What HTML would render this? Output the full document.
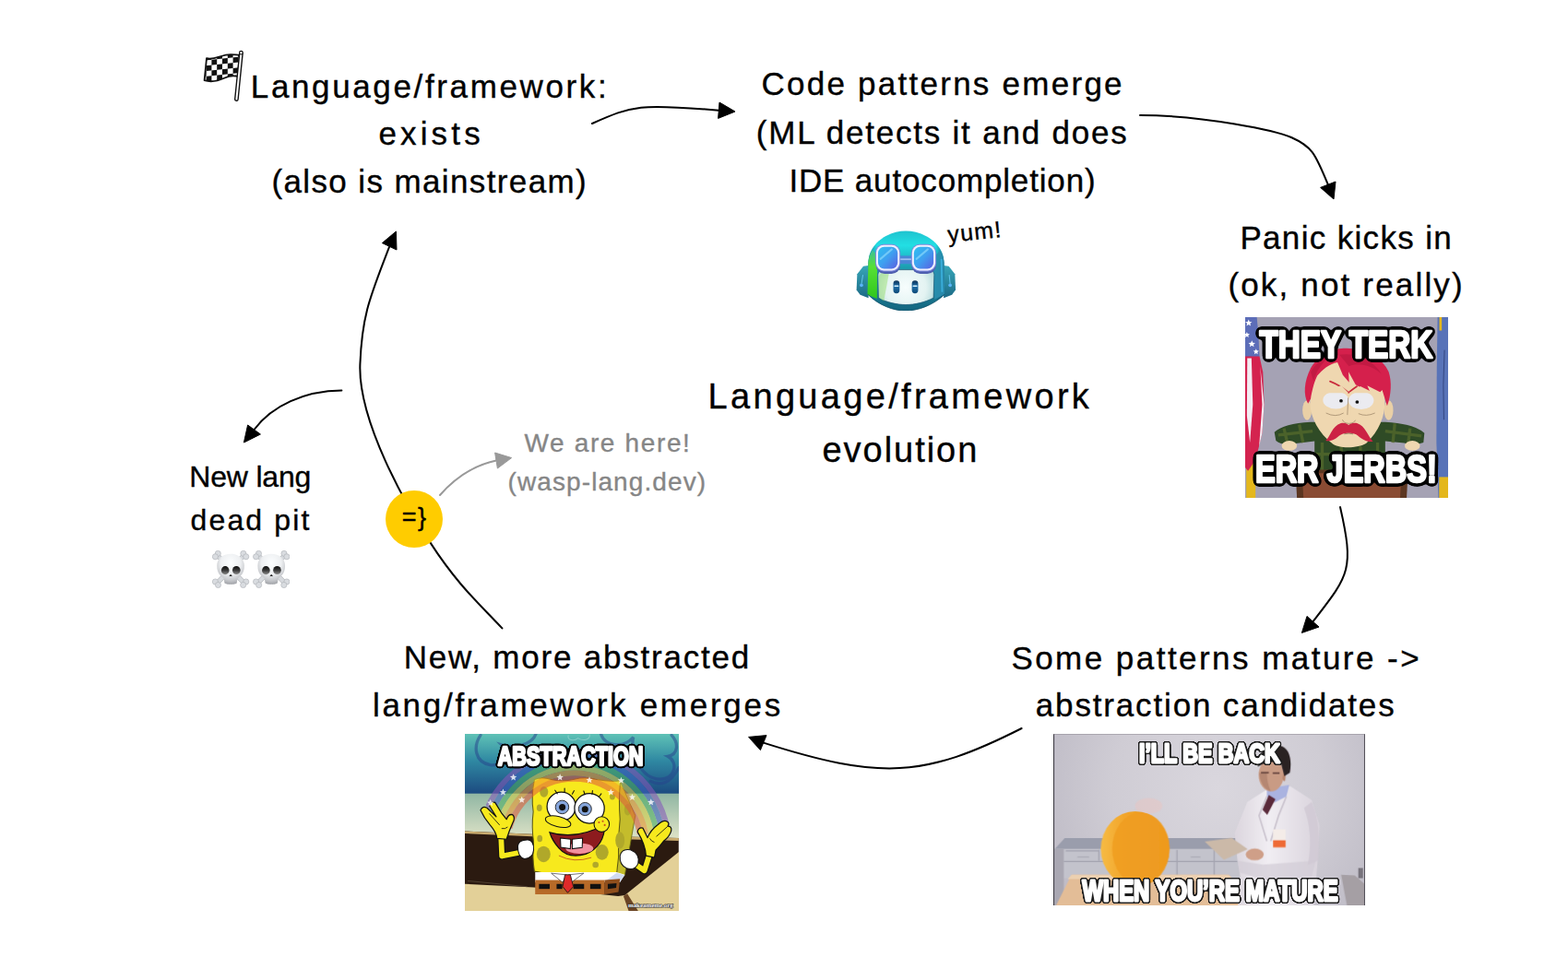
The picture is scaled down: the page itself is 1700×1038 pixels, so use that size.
<!DOCTYPE html>
<html lang="en">
<head>
<meta charset="utf-8">
<title>Language/framework evolution</title>
<style>
html,body{margin:0;padding:0;background:#fff}
body{width:1700px;height:1038px;overflow:hidden;font-family:"Liberation Sans",sans-serif;color:#000}
#canvas{position:relative;width:1700px;height:1038px;overflow:hidden;background:#fff}
#arrows{position:absolute;left:0;top:0}
.ln{position:absolute;white-space:pre;margin:0;-webkit-text-stroke:0.35px currentColor}
.pic{position:absolute;display:block;overflow:hidden}
.meme{font-family:"Liberation Sans",sans-serif;font-weight:bold;fill:#fff;stroke:#000;paint-order:stroke fill;stroke-linejoin:round}
#wasp{position:absolute;left:427px;top:545px;width:44px;text-align:center;font-size:27px;line-height:32px;letter-spacing:1.5px;text-indent:1.5px;-webkit-text-stroke:0.4px currentColor}
#yum{position:absolute;left:1029px;top:239px;font-size:25px;line-height:30px;transform:rotate(-6deg);transform-origin:0 100%;letter-spacing:1.2px;-webkit-text-stroke:0.4px currentColor}
.memef{font-family:"Liberation Sans",sans-serif;font-weight:bold;fill:#fff}

</style>
</head>
<body>
<div id="canvas">
<svg id="arrows" width="1700" height="1038" viewBox="0 0 1700 1038">
<path d="M642.0 134.0C686.2 114.4 693.4 112.1 779.3 119.7" fill="none" stroke="#000" stroke-width="2" stroke-linecap="round"/><path d="M797.0 121.0L780.0 111.0L778.6 128.4Z" fill="#000" stroke="#000" stroke-width="1" stroke-linejoin="round"/>
<path d="M1236.0 125.0C1306.4 125.0 1384.8 142.3 1400.0 149.0C1422.2 158.8 1425.7 165.7 1439.8 200.2" fill="none" stroke="#000" stroke-width="2" stroke-linecap="round"/><path d="M1446.0 216.0L1431.6 203.4L1448.0 197.0Z" fill="#000" stroke="#000" stroke-width="1" stroke-linejoin="round"/>
<path d="M1453.0 550.0C1468.6 618.5 1462.5 623.7 1423.5 674.2" fill="none" stroke="#000" stroke-width="2" stroke-linecap="round"/><path d="M1411.4 686.4L1417.0 668.4L1430.0 680.0Z" fill="#000" stroke="#000" stroke-width="1" stroke-linejoin="round"/>
<path d="M1107.6 790.0C1001.3 843.9 954.6 845.8 827.7 805.6" fill="none" stroke="#000" stroke-width="2" stroke-linecap="round"/><path d="M811.6 799.4L831.0 797.6L824.4 813.6Z" fill="#000" stroke="#000" stroke-width="1" stroke-linejoin="round"/>
<path d="M544.4 681.4C519.5 654.8 496.0 634.3 466.4 588.4C441.1 549.1 388.0 457.3 390.4 395.0C392.6 339.1 402.4 319.6 422.2 267.3" fill="none" stroke="#000" stroke-width="2" stroke-linecap="round"/><path d="M429.4 251.0L414.4 263.6L430.0 271.0Z" fill="#000" stroke="#000" stroke-width="1" stroke-linejoin="round"/>
<path d="M370.4 423.6C330 424 295 440 275.5 466" fill="none" stroke="#000" stroke-width="2" stroke-linecap="round"/><path d="M264.4 480.0L268.6 461.0L282.4 471.0Z" fill="#000" stroke="#000" stroke-width="1" stroke-linejoin="round"/>
<path d="M477 537C492 520 512 505 538 499.5" fill="none" stroke="#999" stroke-width="2" stroke-linecap="round"/><path d="M554.6 496.6L536.6 491.0L539.4 508.0Z" fill="#999" stroke="#999" stroke-width="1" stroke-linejoin="round"/>
<circle cx="449" cy="563" r="31" fill="#ffcc00"/>
</svg>
<div class="blk" id="t1">
  <div class="ln" style="left:271.8px;top:71.9px;font-size:35px;line-height:44px;letter-spacing:2.63px">Language/framework:</div>
  <div class="ln" style="left:410.4px;top:122.5px;font-size:35px;line-height:44px;letter-spacing:4.16px">exists</div>
  <div class="ln" style="left:294.4px;top:174.9px;font-size:35px;line-height:44px;letter-spacing:1.38px">(also is mainstream)</div>
</div>
<div class="blk" id="t2">
  <div class="ln" style="left:825.4px;top:69.4px;font-size:35px;line-height:44px;letter-spacing:2.26px">Code patterns emerge</div>
  <div class="ln" style="left:819.8px;top:121.9px;font-size:35px;line-height:44px;letter-spacing:1.79px">(ML detects it and does</div>
  <div class="ln" style="left:855.4px;top:173.9px;font-size:35px;line-height:44px;letter-spacing:0.84px">IDE autocompletion)</div>
</div>
<div class="blk" id="t3">
  <div class="ln" style="left:1344.4px;top:235.9px;font-size:35px;line-height:44px;letter-spacing:1.33px">Panic kicks in</div>
  <div class="ln" style="left:1331.4px;top:286.9px;font-size:35px;line-height:44px;letter-spacing:2.17px">(ok, not really)</div>
</div>
<div class="blk" id="title">
  <div class="ln" style="left:767.6px;top:406.4px;font-size:38px;line-height:48px;letter-spacing:3.31px">Language/framework</div>
  <div class="ln" style="left:891.5px;top:463.6px;font-size:38px;line-height:48px;letter-spacing:1.96px">evolution</div>
</div>
<div class="blk" id="here">
  <div class="ln" style="left:568.5px;top:462.5px;font-size:28px;line-height:35px;letter-spacing:1.64px;color:#868686">We are here!</div>
  <div class="ln" style="left:550.6px;top:504.6px;font-size:28px;line-height:35px;letter-spacing:1.09px;color:#868686">(wasp-lang.dev)</div>
</div>
<div class="blk" id="pit">
  <div class="ln" style="left:205.2px;top:496.9px;font-size:32px;line-height:40px;letter-spacing:-0.17px">New lang</div>
  <div class="ln" style="left:206.6px;top:543.9px;font-size:32px;line-height:40px;letter-spacing:2.13px">dead pit</div>
</div>
<div class="blk" id="t5">
  <div class="ln" style="left:437.7px;top:690.7px;font-size:35px;line-height:44px;letter-spacing:1.80px">New, more abstracted</div>
  <div class="ln" style="left:403.9px;top:743.2px;font-size:35px;line-height:44px;letter-spacing:2.72px">lang/framework emerges</div>
</div>
<div class="blk" id="t4">
  <div class="ln" style="left:1096.4px;top:691.5px;font-size:35px;line-height:44px;letter-spacing:2.46px">Some patterns mature -&gt;</div>
  <div class="ln" style="left:1122.8px;top:742.5px;font-size:35px;line-height:44px;letter-spacing:1.84px">abstraction candidates</div>
</div>

<div id="wasp">=}</div>
<div id="yum">yum!</div>
<svg class="pic" id="flag" style="left:220px;top:54px" width="45" height="57" viewBox="100 70 225 285" role="img" aria-label="chequered flag">
<defs>
<pattern id="chk" width="58" height="58" patternUnits="userSpaceOnUse" patternTransform="translate(118 98) skewY(-6)"><rect width="58" height="58" fill="#fff"/><rect width="29" height="29" fill="#111"/><rect x="29" y="29" width="29" height="29" fill="#111"/></pattern>
<clipPath id="flagClip"><path d="M120 116C160 128 200 96 250 96C270 96 285 98 298 98L290 216C270 208 240 212 215 224C180 240 140 246 108 236Z"/></clipPath>
</defs>
<path d="M120 116C160 128 200 96 250 96C270 96 285 98 298 98L290 216C270 208 240 212 215 224C180 240 140 246 108 236Z" fill="#fff"/>
<g clip-path="url(#flagClip)"><rect x="100" y="60" width="220" height="220" fill="url(#chk)"/></g>
<path d="M120 116C160 128 200 96 250 96C270 96 285 98 298 98L290 216C270 208 240 212 215 224C180 240 140 246 108 236Z" fill="none" stroke="#111" stroke-width="9" stroke-linejoin="round"/>
<path d="M307 90L282 338" stroke="#111" stroke-width="24" stroke-linecap="round"/>
<path d="M307 90L282 338" stroke="#fff" stroke-width="10" stroke-linecap="round"/>
<circle cx="307" cy="86" r="9" fill="#fff" stroke="#111" stroke-width="6"/>
</svg>

<svg class="pic" id="skulls" style="left:229.9px;top:596.5px" width="84.3" height="41.1" viewBox="160 105 1365 665" preserveAspectRatio="none" role="img" aria-label="skull and crossbones, twice">
<defs>
<radialGradient id="skHead" cx=".5" cy=".3" r=".72"><stop offset="0" stop-color="#fcfeff"/><stop offset=".5" stop-color="#eef0f2"/><stop offset=".8" stop-color="#c4c6ca"/><stop offset="1" stop-color="#9c9ea3"/></radialGradient>
<linearGradient id="skJaw" x1="0" y1="0" x2="0" y2="1"><stop offset="0" stop-color="#e4e6e8"/><stop offset="1" stop-color="#b9bbbf"/></linearGradient>
<linearGradient id="skEye" x1="0" y1="0" x2="0" y2="1"><stop offset="0" stop-color="#0c0c0c"/><stop offset=".5" stop-color="#3a3a3a"/><stop offset="1" stop-color="#8a8a8a"/></linearGradient>
<filter id="skSoft" x="-5%" y="-5%" width="110%" height="110%"><feGaussianBlur stdDeviation="4"/></filter>
</defs>
<g filter="url(#skSoft)">
<g transform="translate(0 0)">
<g stroke-linecap="round">
<path d="M250 190L720 675M720 190L250 675" stroke="#a9acb1" stroke-width="84"/>
<path d="M250 190L720 675M720 190L250 675" stroke="#d7dade" stroke-width="66"/>
</g>
<g fill="#d9dce0" stroke="#a9acb1" stroke-width="9">
<circle cx="262" cy="160" r="50"/><circle cx="215" cy="215" r="50"/>
<circle cx="708" cy="160" r="50"/><circle cx="755" cy="215" r="50"/>
<circle cx="215" cy="655" r="50"/><circle cx="265" cy="712" r="50"/>
<circle cx="755" cy="655" r="50"/><circle cx="705" cy="712" r="50"/>
</g>
<path d="M245 370C245 250 350 165 485 165C620 165 725 250 725 370C725 450 705 505 665 545L605 600L592 680C560 708 410 708 378 680L365 600L305 545C265 505 245 450 245 370Z" fill="url(#skHead)"/>
<path d="M430 672V700M467 676V704M504 676V704M540 672V700" stroke="#a4a6aa" stroke-width="7"/>
<ellipse cx="390" cy="455" rx="70" ry="73" fill="url(#skEye)"/><ellipse cx="586" cy="452" rx="70" ry="73" fill="url(#skEye)"/>
<path d="M485 525C500 535 512 552 512 562C500 556 492 556 485 560C478 556 470 556 458 562C458 552 470 535 485 525Z" fill="#222"/>
</g>
<g transform="translate(715 0)">
<g stroke-linecap="round">
<path d="M250 190L720 675M720 190L250 675" stroke="#a9acb1" stroke-width="84"/>
<path d="M250 190L720 675M720 190L250 675" stroke="#d7dade" stroke-width="66"/>
</g>
<g fill="#d9dce0" stroke="#a9acb1" stroke-width="9">
<circle cx="262" cy="160" r="50"/><circle cx="215" cy="215" r="50"/>
<circle cx="708" cy="160" r="50"/><circle cx="755" cy="215" r="50"/>
<circle cx="215" cy="655" r="50"/><circle cx="265" cy="712" r="50"/>
<circle cx="755" cy="655" r="50"/><circle cx="705" cy="712" r="50"/>
</g>
<path d="M245 370C245 250 350 165 485 165C620 165 725 250 725 370C725 450 705 505 665 545L605 600L592 680C560 708 410 708 378 680L365 600L305 545C265 505 245 450 245 370Z" fill="url(#skHead)"/>
<path d="M430 672V700M467 676V704M504 676V704M540 672V700" stroke="#a4a6aa" stroke-width="7"/>
<ellipse cx="390" cy="455" rx="70" ry="73" fill="url(#skEye)"/><ellipse cx="586" cy="452" rx="70" ry="73" fill="url(#skEye)"/>
<path d="M485 525C500 535 512 552 512 562C500 556 492 556 485 560C478 556 470 556 458 562C458 552 470 535 485 525Z" fill="#222"/>
</g>
</g>
</svg>

<svg class="pic" id="copilot" style="left:927.8px;top:249.7px" width="108.2" height="87.2" viewBox="225 200 876 706" preserveAspectRatio="none">
<defs>
<linearGradient id="cpDome" x1="0" y1="0" x2="0" y2="1"><stop offset="0" stop-color="#1fc3cf"/><stop offset=".18" stop-color="#22dfe4"/><stop offset=".5" stop-color="#1b93a8"/><stop offset="1" stop-color="#156680"/></linearGradient>
<linearGradient id="cpSide" x1="0" y1="0" x2="1" y2="0"><stop offset="0" stop-color="#1a7e96" stop-opacity=".9"/><stop offset=".12" stop-color="#1a7e96" stop-opacity="0"/><stop offset=".88" stop-color="#165f86" stop-opacity="0"/><stop offset="1" stop-color="#165f86" stop-opacity=".9"/></linearGradient>
<linearGradient id="cpGreen" x1="0" y1="0" x2="0" y2="1"><stop offset="0" stop-color="#3bbf9a"/><stop offset=".35" stop-color="#57e035"/><stop offset="1" stop-color="#2fc61c"/></linearGradient>
<radialGradient id="cpFace" cx="660" cy="700" r="300" gradientUnits="userSpaceOnUse"><stop offset="0" stop-color="#f7fdfd"/><stop offset=".6" stop-color="#e3f3f2"/><stop offset="1" stop-color="#a9d4d6"/></radialGradient>
<linearGradient id="cpGlass" x1="0" y1="0" x2="1" y2="1"><stop offset="0" stop-color="#2fc0f0"/><stop offset=".5" stop-color="#3f9ff0"/><stop offset="1" stop-color="#5a5fe0"/></linearGradient>
<linearGradient id="cpEar" x1="0" y1="0" x2="0" y2="1"><stop offset="0" stop-color="#37a6b8"/><stop offset="1" stop-color="#1c6a86"/></linearGradient>
<linearGradient id="cpEye" x1="0" y1="0" x2="0" y2="1"><stop offset="0" stop-color="#0e3358"/><stop offset=".45" stop-color="#1f6ea8"/><stop offset="1" stop-color="#0f4a78"/></linearGradient>
</defs>
<path d="M335 508L290 514L236 582L230 722L262 764L335 794Z" fill="url(#cpEar)"/>
<path d="M995 508L1040 514L1094 582L1100 722L1068 764L995 794Z" fill="url(#cpEar)"/>
<path d="M286 590L274 668M1044 590L1052 668" stroke="#63c6ee" stroke-width="8" fill="none"/>
<circle cx="273" cy="680" r="15" fill="#58b4f8"/><circle cx="1052" cy="680" r="15" fill="#58b4f8"/>
<path d="M328 760L334 480C340 300 520 205 662 205C810 205 990 300 998 480L1004 760C900 862 760 905 662 905C560 905 430 862 328 760Z" fill="url(#cpDome)"/>
<path d="M328 760L334 480C340 300 520 205 662 205C810 205 990 300 998 480L1004 760C900 862 760 905 662 905C560 905 430 862 328 760Z" fill="url(#cpSide)"/>
<path d="M326 762L334 480C336 440 350 400 372 370L412 420L410 800Z" fill="url(#cpGreen)"/>
<path d="M912 430L960 380C985 410 996 450 998 480L1004 760L915 805Z" fill="#2b8fb0" opacity=".85"/>
<path d="M975 450L982 740" stroke="#3fb8e8" stroke-width="14" opacity=".8"/>
<path d="M418 592C418 562 440 545 470 545H860C894 545 912 565 912 592L906 792C830 832 740 852 662 852C590 852 490 832 424 792Z" fill="url(#cpFace)" stroke="#1e5a78" stroke-width="6"/>
<path d="M424 600L470 550L520 548L470 820L426 790Z" fill="#9fe07a" opacity=".55"/>
<path d="M328 760C430 862 560 905 662 905C760 905 900 862 1004 760" fill="none" stroke="#0f5068" stroke-width="8" opacity=".8"/>
<!-- goggles -->
<rect x="606" y="422" width="114" height="72" fill="#4a86d6"/><rect x="606" y="446" width="114" height="14" fill="#9fc0f0"/>
<g>
<rect x="400" y="345" width="214" height="236" rx="76" fill="#4f5fb0"/>
<rect x="395" y="320" width="220" height="240" rx="74" fill="#7e89dc"/>
<rect x="403" y="328" width="204" height="224" rx="66" fill="#eef0ff"/>
<rect x="419" y="344" width="172" height="192" rx="54" fill="url(#cpGlass)"/>
<rect x="714" y="345" width="214" height="236" rx="76" fill="#4f5fb0"/>
<rect x="710" y="320" width="220" height="240" rx="74" fill="#7e89dc"/>
<rect x="718" y="328" width="204" height="224" rx="66" fill="#eef0ff"/>
<rect x="734" y="344" width="172" height="192" rx="54" fill="url(#cpGlass)"/>
<path d="M440 450L540 365M756 450L856 365" stroke="#9fe6ff" stroke-width="16" opacity=".55" stroke-linecap="round"/>
</g>
<!-- eyes -->
<rect x="553" y="640" width="55" height="112" rx="27" fill="url(#cpEye)"/><rect x="716" y="640" width="55" height="112" rx="27" fill="url(#cpEye)"/>
<rect x="560" y="682" width="41" height="12" rx="6" fill="#d8f2ff"/><rect x="723" y="682" width="41" height="12" rx="6" fill="#d8f2ff"/>
</svg>

<svg class="pic" id="meme-terk" style="left:1350px;top:344px" width="220" height="196" viewBox="97 43 1062 946" preserveAspectRatio="none">
<defs>
<filter id="impact1" x="-5%" y="-25%" width="110%" height="150%" color-interpolation-filters="sRGB">
<feGaussianBlur in="SourceAlpha" stdDeviation="12" result="b"/>
<feComponentTransfer in="b" result="e"><feFuncA type="linear" slope="24" intercept="-1.2"/></feComponentTransfer>
<feFlood flood-color="#000"/><feComposite in2="e" operator="in" result="blk"/>
<feMerge><feMergeNode in="blk"/><feMergeNode in="SourceGraphic"/></feMerge>
</filter>
</defs>
<rect x="97" y="43" width="1062" height="946" fill="#a5a2b4"/>
<!-- left flag -->
<rect x="103" y="700" width="48" height="290" fill="#e4b71c"/>
<path d="M97 43H158L166 130L172 250H97Z" fill="#5c6db8"/>
<path d="M97 248H172L190 330L196 500L186 650L152 790L112 848L97 830Z" fill="#d4234f"/>
<path d="M108 258H130L137 500L122 700L106 560Z" fill="#f3ecf2"/>
<path d="M176 300L196 500L186 650L170 720L186 500Z" fill="#f3ecf2"/>
<g fill="#fff"><path d="M115 55l5 12 13 1-10 8 3 13-11-7-11 7 3-13-10-8 13-1z"/><path d="M132 165l5 12 13 1-10 8 3 13-11-7-11 7 3-13-10-8 13-1z"/><path d="M154 208l4 10 11 1-8 7 2 11-9-6-9 6 2-11-8-7 11-1z"/><path d="M106 120l4 10 11 1-8 7 2 11-9-6-9 6 2-11-8-7 11-1z"/></g>
<!-- right curtain -->
<path d="M1104 43H1159V989H1108L1098 700L1100 300Z" fill="#5873b8"/>
<rect x="1113" y="43" width="13" height="70" fill="#e4b71c"/>
<rect x="1112" y="880" width="47" height="110" fill="#e4b71c"/>
<path d="M1140 215Q1130 400 1137 580" fill="none" stroke="#2c3c74" stroke-width="4"/>
<!-- shirt -->
<path d="M250 645Q300 600 440 592L830 592Q980 600 1035 650L1030 700Q980 718 930 702L830 692V850H460V692L350 706Q290 716 258 690Z" fill="#2f4b26"/>
<g stroke="#55692c" stroke-width="16" opacity=".75" fill="none"><path d="M300 625L320 710M380 605L400 700M880 600L870 700M960 625L950 705M500 700V850M600 720V850M700 720V850M790 700V850M460 760H830M270 660L450 640M830 640L1020 665"/></g>
<ellipse cx="328" cy="716" rx="40" ry="26" fill="#efd7b0"/><ellipse cx="972" cy="716" rx="40" ry="26" fill="#efd7b0"/>
<!-- podium -->
<path d="M360 842H950L942 989H368Z" fill="#5c3621"/>
<path d="M395 860H915L908 989H402Z" fill="#8a4b33"/>
<!-- head -->
<ellipse cx="421" cy="530" rx="24" ry="52" fill="#ead0a6"/><ellipse cx="848" cy="530" rx="24" ry="52" fill="#ead0a6"/>
<path d="M437 496C430 380 520 240 636 240C750 240 835 380 828 496C826 560 800 640 731 703C690 730 590 732 557 708C480 650 440 570 437 496Z" fill="#efd7b0"/>
<!-- hair -->
<path d="M426 496C400 450 405 380 440 310C490 230 560 206 624 206C720 204 820 260 848 329C865 380 862 450 840 508L814 424L803 435L736 401L753 440L714 418L675 396L638 329L641 385L608 346L580 279C540 285 500 318 474 350C455 390 445 440 440 470Z" fill="#d5204c"/>
<path d="M590 240C680 225 770 270 810 340C770 305 700 275 640 300ZM440 330C460 290 500 260 540 250C500 280 470 320 455 380Z" fill="#b3163c" opacity=".55"/>
<path d="M541 379Q595 400 638 438Q660 420 682 405" fill="none" stroke="#c92b3c" stroke-width="8" stroke-linecap="round"/>
<ellipse cx="571" cy="477" rx="67" ry="46" fill="#ebebf0"/><ellipse cx="704" cy="479" rx="66" ry="47" fill="#ebebf0"/>
<path d="M500 440L638 440L600 400ZM640 440L772 440L700 405Z" fill="#efd7b0"/>
<circle cx="599" cy="481" r="9" fill="#111"/><circle cx="683" cy="487" r="9" fill="#111"/>
<path d="M636 465L632 555M606 580Q612 598 640 600Q668 598 674 582M520 545Q570 570 612 545M690 548Q730 566 776 545" fill="none" stroke="#8a7558" stroke-width="3"/>
<path d="M518 690C540 672 552 612 598 598C620 594 632 602 638 608C646 602 660 594 682 598C726 610 742 672 766 694C730 698 702 676 688 664C672 650 652 648 638 650C622 648 604 652 588 664C572 678 548 696 518 690Z" fill="#cc2244"/>
<path d="M615 655Q638 648 662 655" fill="none" stroke="#8a7558" stroke-width="4"/>
<!-- captions -->
<text class="memef" stroke="#fff" stroke-width="13" stroke-linejoin="round" x="172" y="256" font-size="208" textLength="906" lengthAdjust="spacingAndGlyphs" filter="url(#impact1)">THEY TERK</text>
<text class="memef" stroke="#fff" stroke-width="13" stroke-linejoin="round" x="150" y="908" font-size="208" textLength="950" lengthAdjust="spacingAndGlyphs" filter="url(#impact1)">ERR JERBS!</text>
</svg>

<svg class="pic" id="meme-abstraction" style="left:504px;top:796px" width="232" height="192" viewBox="68 53 1120 926" preserveAspectRatio="none">
<defs>
<linearGradient id="absSky" x1="0" y1="0" x2="0" y2="1"><stop offset="0" stop-color="#5fc2b6"/><stop offset=".45" stop-color="#2f88a2"/><stop offset="1" stop-color="#1c4a80"/></linearGradient>
<linearGradient id="absSea" x1="0" y1="0" x2="0" y2="1"><stop offset="0" stop-color="#90b6a3"/><stop offset="1" stop-color="#e0e4c8"/></linearGradient>
<filter id="impact2" x="-5%" y="-25%" width="110%" height="150%" color-interpolation-filters="sRGB">
<feGaussianBlur in="SourceAlpha" stdDeviation="7.5" result="b"/>
<feComponentTransfer in="b" result="e"><feFuncA type="linear" slope="24" intercept="-1.2"/></feComponentTransfer>
<feFlood flood-color="#000"/><feComposite in2="e" operator="in" result="blk"/>
<feMerge><feMergeNode in="blk"/><feMergeNode in="SourceGraphic"/></feMerge>
</filter>
</defs>
<rect x="68" y="53" width="1120" height="314" fill="url(#absSky)"/>
<rect x="68" y="365" width="1120" height="240" fill="url(#absSea)"/>
<!-- sky flowers -->
<g fill="none" stroke="#26418c" stroke-width="16" opacity=".5" stroke-linecap="round">
<path d="M150 60C110 120 120 200 200 215C280 225 300 150 260 110C330 130 420 110 440 53"/>
<path d="M780 53C800 120 900 130 950 70C930 150 990 290 1090 290C1170 290 1187 200 1130 170C1187 160 1187 100 1150 60"/>
<path d="M1187 230C1150 300 1100 330 1040 300"/>
</g>
<path d="M610 60C600 85 640 95 660 75C690 95 730 80 720 55" fill="none" stroke="#9ad6d0" stroke-width="5" opacity=".7"/>
<!-- ground -->
<path d="M68 562L420 578L1187 598V905H68Z" fill="#2b1a10"/>
<path d="M68 562L420 578L1187 598V612L420 590L68 574Z" fill="#c9ab6e"/>
<path d="M68 838L430 856L870 902L905 897L1188 670V979H68Z" fill="#e3d098"/>
<path d="M918 888L975 979H925L898 902Z" fill="#6a4424"/>
<!-- body -->
<path d="M880 300L960 480L905 792H850Z" fill="#c4bc2c" stroke="#6b6a14" stroke-width="4"/>
<path d="M432 292Q470 275 520 292Q580 305 640 290Q700 275 760 292Q820 305 882 298Q872 400 880 500Q868 600 872 700Q866 750 862 792Q800 800 740 788Q680 776 620 790Q560 800 500 786Q460 778 432 772Q420 700 428 620Q416 540 426 460Q414 380 432 292Z" fill="#f7e91d" stroke="#5e5a10" stroke-width="5"/>
<g fill="#b0a82a"><ellipse cx="482" cy="356" rx="22" ry="28"/><ellipse cx="480" cy="682" rx="36" ry="42"/><ellipse cx="786" cy="672" rx="34" ry="40"/><ellipse cx="880" cy="610" rx="24" ry="44"/><ellipse cx="460" cy="600" rx="14" ry="18"/><ellipse cx="458" cy="440" rx="14" ry="18"/><ellipse cx="920" cy="450" rx="18" ry="30"/><ellipse cx="840" cy="382" rx="14" ry="16"/><ellipse cx="752" cy="738" rx="16" ry="16"/></g>
<!-- rainbow -->
<clipPath id="absClip"><path d="M68 53H1188V500L1075 575L950 580L640 640L300 545L175 425H68Z"/></clipPath>
<g fill="none" stroke-width="29.5" opacity=".58" clip-path="url(#absClip)">
<circle cx="640" cy="637" r="494.5" stroke="#8458b8"/>
<circle cx="640" cy="637" r="465.5" stroke="#3f62c0"/>
<circle cx="640" cy="637" r="436.5" stroke="#4fae62"/>
<circle cx="640" cy="637" r="407.5" stroke="#d8d048"/>
<circle cx="640" cy="637" r="378.5" stroke="#f0982c"/>
<circle cx="640" cy="637" r="349.5" stroke="#e0603c"/>
</g>
<!-- eyes -->
<g stroke="#111" stroke-width="6"><circle cx="573" cy="433" r="75" fill="#fff"/><circle cx="720" cy="443" r="78" fill="#fff"/></g>
<circle cx="577" cy="436" r="35" fill="#86a6dc" stroke="#111" stroke-width="4"/><circle cx="697" cy="446" r="34" fill="#86a6dc" stroke="#111" stroke-width="4"/>
<circle cx="578" cy="437" r="17" fill="#111"/><circle cx="697" cy="447" r="17" fill="#111"/>
<g stroke="#111" stroke-width="5" stroke-linecap="round"><path d="M540 348L552 366M590 338L590 358M640 350L630 368M690 352L696 370M736 350L734 370M782 366L770 382"/></g>
<!-- mouth -->
<path d="M512 568Q650 610 800 528Q800 640 700 682Q610 708 560 650Q525 612 512 568Z" fill="#8d1b1e" stroke="#111" stroke-width="6"/>
<ellipse cx="668" cy="652" rx="72" ry="28" fill="#f2909f"/>
<path d="M568 598L622 604L620 654L570 646ZM630 604L684 598L682 648L630 654Z" fill="#fff" stroke="#111" stroke-width="5"/>
<circle cx="784" cy="526" r="40" fill="#f7e91d" stroke="#111" stroke-width="5"/>
<g fill="#c8501e"><circle cx="770" cy="516" r="5"/><circle cx="790" cy="510" r="5"/><circle cx="800" cy="530" r="5"/></g>
<ellipse cx="556" cy="512" rx="68" ry="27" transform="rotate(14 556 512)" fill="#f7e91d" stroke="#111" stroke-width="5"/>
<path d="M560 690Q640 730 730 700" fill="none" stroke="#c0501e" stroke-width="4"/>
<!-- clothes -->
<path d="M436 776H862L905 790L880 830H436Z" fill="#fff"/>
<path d="M800 826L880 826L905 792L862 780Z" fill="#d0daf2"/>
<path d="M436 818H800V892H436Z" fill="#b76a28"/>
<path d="M800 818L880 812L872 880L800 892Z" fill="#8f4e1c"/>
<g fill="#111"><rect x="456" y="838" width="56" height="26"/><rect x="548" y="838" width="30" height="26"/><rect x="636" y="838" width="56" height="26"/><rect x="724" y="838" width="56" height="26"/><path d="M816 838L862 834L860 858L816 864Z"/></g>
<path d="M520 782L580 830L600 790ZM690 782L625 830L610 790Z" fill="#fff" stroke="#222" stroke-width="3"/>
<path d="M592 790H620L636 852L606 884L580 852Z" fill="#e02a2a" stroke="#111" stroke-width="4"/>
<!-- arms -->
<g fill="none" stroke-linecap="round" stroke-linejoin="round">
<path d="M256 560L262 692L385 668" stroke="#111" stroke-width="38"/><path d="M256 560L262 692L385 668" stroke="#f7e91d" stroke-width="28"/>
<path d="M1045 650L1008 768L940 722" stroke="#111" stroke-width="38"/><path d="M1045 650L1008 768L940 722" stroke="#f7e91d" stroke-width="28"/>
</g>
<path d="M345 640Q350 605 400 608Q430 612 428 660Q424 705 380 706Q345 700 345 640Z" fill="#fff" stroke="#111" stroke-width="5"/>
<path d="M880 690Q890 650 935 660Q985 680 975 730Q960 770 915 756Q876 740 880 690Z" fill="#fff" stroke="#111" stroke-width="5"/>
<path d="M150 452Q160 428 184 440L232 486L196 428Q200 402 226 412L262 470L286 500Q296 470 318 476Q334 490 318 520Q300 560 286 604L236 600Q232 566 200 530Q168 492 150 452Z" fill="#f7e91d" stroke="#111" stroke-width="6" stroke-linejoin="round"/>
<path d="M196 470L250 530M260 548Q280 552 292 540" fill="none" stroke="#111" stroke-width="4"/>
<path d="M972 566Q974 540 1000 546L1024 596Q1040 556 1078 528Q1108 500 1128 512Q1140 520 1130 536Q1152 536 1148 560Q1140 590 1110 612Q1090 640 1068 660L1060 700L1016 690Q1012 630 972 566Z" fill="#f7e91d" stroke="#111" stroke-width="6" stroke-linejoin="round"/>
<path d="M1128 538L1070 590M1060 620Q1044 616 1036 600" fill="none" stroke="#111" stroke-width="4"/>
<g fill="#fff" opacity=".8"><path d="M322 262l5 12 13 1-10 8 3 13-11-7-11 7 3-13-10-8 13-1z"/><path d="M268 340l5 12 13 1-10 8 3 13-11-7-11 7 3-13-10-8 13-1z"/><path d="M566 262l5 12 13 1-10 8 3 13-11-7-11 7 3-13-10-8 13-1z"/><path d="M720 276l5 12 13 1-10 8 3 13-11-7-11 7 3-13-10-8 13-1z"/><path d="M886 278l5 12 13 1-10 8 3 13-11-7-11 7 3-13-10-8 13-1z"/><path d="M1042 392l5 12 13 1-10 8 3 13-11-7-11 7 3-13-10-8 13-1z"/><path d="M366 380l5 12 13 1-10 8 3 13-11-7-11 7 3-13-10-8 13-1z"/><path d="M832 340l5 12 13 1-10 8 3 13-11-7-11 7 3-13-10-8 13-1z"/><path d="M944 366l5 12 13 1-10 8 3 13-11-7-11 7 3-13-10-8 13-1z"/><path d="M202 396l5 12 13 1-10 8 3 13-11-7-11 7 3-13-10-8 13-1z"/></g>
<path d="M82 822L395 852" stroke="#6b5a48" stroke-width="5" opacity=".6"/>
<!-- captions -->
<text class="memef" stroke="#fff" stroke-width="13" stroke-linejoin="round" x="240" y="217" font-size="144" textLength="762" lengthAdjust="spacingAndGlyphs" filter="url(#impact2)">ABSTRACTION</text>
<text x="922" y="962" font-family="'Liberation Serif',serif" font-weight="bold" font-size="30" textLength="236" lengthAdjust="spacingAndGlyphs" fill="#f4f4f4" stroke="#333" stroke-width="5" paint-order="stroke fill">makeameme.org</text>
</svg>

<svg class="pic" id="meme-mature" style="left:1142px;top:796px" width="338" height="186" viewBox="57 52 1596 877" preserveAspectRatio="none">
<defs>
<radialGradient id="bkWall" cx="900" cy="330" r="1000" gradientUnits="userSpaceOnUse"><stop offset="0" stop-color="#dad7de"/><stop offset=".55" stop-color="#cfccd4"/><stop offset="1" stop-color="#bcb9c4"/></radialGradient>
<linearGradient id="bkCheese" x1="0" y1="0" x2="1" y2="0"><stop offset="0" stop-color="#f6bb45"/><stop offset=".35" stop-color="#f2a52a"/><stop offset="1" stop-color="#e8901a"/></linearGradient>
<linearGradient id="bkCoat" x1="0" y1="0" x2="1" y2="0"><stop offset="0" stop-color="#dcd6de"/><stop offset=".4" stop-color="#f1eef3"/><stop offset="1" stop-color="#d9d3dc"/></linearGradient>
<filter id="bkBlur" x="-10%" y="-10%" width="120%" height="120%"><feGaussianBlur stdDeviation="3.5"/></filter>
<filter id="impact3" x="-5%" y="-25%" width="110%" height="150%" color-interpolation-filters="sRGB">
<feGaussianBlur in="SourceAlpha" stdDeviation="5" result="b"/>
<feComponentTransfer in="b" result="e"><feFuncA type="linear" slope="24" intercept="-1.2"/></feComponentTransfer>
<feFlood flood-color="#1c1c1c"/><feComposite in2="e" operator="in" result="blk"/>
<feMerge><feMergeNode in="blk"/><feMergeNode in="SourceGraphic"/></feMerge>
</filter>
</defs>
<rect x="57" y="52" width="1596" height="877" fill="url(#bkWall)"/>
<g filter="url(#bkBlur)">
<!-- counter and cabinets -->
<path d="M60 645L115 585H1010V645Z" fill="#9a9dac"/>
<rect x="60" y="640" width="950" height="150" fill="#c3c3cc"/>
<path d="M60 640H110V930H60Z" fill="#a9a7b2"/>
<g fill="none" stroke="#a4a4b0" stroke-width="6"><path d="M110 705H1000M290 645V700M690 645V780M880 645V780M120 650H290"/></g>
<g stroke="#b0b0ba" stroke-width="7"><path d="M180 682H240M760 682H810"/></g>
<!-- table -->
<path d="M150 772H955L1090 930H70Z" fill="#e3bd97"/>
<path d="M150 772H955L975 795H130Z" fill="#ecd0b0"/>
<!-- chair -->
<path d="M1530 772L1600 776L1653 822V930H1560Z" fill="#a59fa4"/>
<rect x="1618" y="738" width="24" height="52" fill="#77737c"/>
<!-- cheese -->
<ellipse cx="545" cy="420" rx="70" ry="40" fill="#f3c0b8" opacity=".35"/>
<ellipse cx="476" cy="640" rx="176" ry="192" fill="url(#bkCheese)"/>
<ellipse cx="505" cy="640" rx="147" ry="186" fill="#ef9c20" opacity=".8"/>
<!-- man -->
<path d="M1002 930L1016 780L1000 700L985 560L1050 400L1145 340L1270 320L1380 390L1420 520L1410 700L1392 930Z" fill="url(#bkCoat)"/>
<path d="M1000 700L1130 720L1400 700L1380 780L1150 800L1010 760Z" fill="#d2ccd6" opacity=".7"/>
<path d="M1380 400Q1430 520 1412 700L1360 720Q1390 560 1340 430Z" fill="#cfc8d3" opacity=".8"/>
<path d="M1150 372L1110 470L1150 600M1250 372L1210 470L1170 600" fill="none" stroke="#cbc4cf" stroke-width="8"/>
<path d="M1150 332L1265 312L1250 372L1190 402L1150 372Z" fill="#aab3e0"/>
<path d="M1160 365L1194 386L1152 466L1128 440Z" fill="#5a2a3a"/>
<ellipse cx="1172" cy="262" rx="64" ry="84" fill="#c99b84"/>
<path d="M1110 250Q1120 330 1170 346Q1150 300 1150 250Z" fill="#a87a66" opacity=".6"/>
<path d="M1236 240Q1250 250 1244 290Q1236 300 1230 280Z" fill="#b8866e"/>
<path d="M1104 220C1100 150 1150 105 1215 112C1265 120 1280 180 1268 250L1240 268L1222 200C1180 190 1140 195 1104 220Z" fill="#2a2124"/>
<path d="M1120 250H1160M1180 252H1215" stroke="#5a3a34" stroke-width="7"/>
<rect x="1182" y="540" width="64" height="92" fill="#f4ece8"/><rect x="1182" y="596" width="64" height="36" fill="#ee6a34"/>
<path d="M832 602L970 584L1052 642L930 696Z" fill="#cbb9a8"/>
<ellipse cx="1088" cy="668" rx="46" ry="30" fill="#cf9f88"/>
</g>
<rect x="57" y="52" width="5" height="877" fill="#3c3a42"/><rect x="1648" y="52" width="5" height="877" fill="#55525a"/>
<rect x="57" y="52" width="1596" height="4" fill="#8a8790" opacity=".6"/>
<!-- captions -->
<text class="memef" stroke="#fff" stroke-width="13" stroke-linejoin="round" x="496" y="196" font-size="140" textLength="722" lengthAdjust="spacingAndGlyphs" filter="url(#impact3)">I’LL BE BACK</text>
<text class="memef" stroke="#fff" stroke-width="13" stroke-linejoin="round" x="206" y="904" font-size="144" textLength="1308" lengthAdjust="spacingAndGlyphs" filter="url(#impact3)">WHEN YOU’RE MATURE</text>
</svg>

</div>
</body>
</html>
